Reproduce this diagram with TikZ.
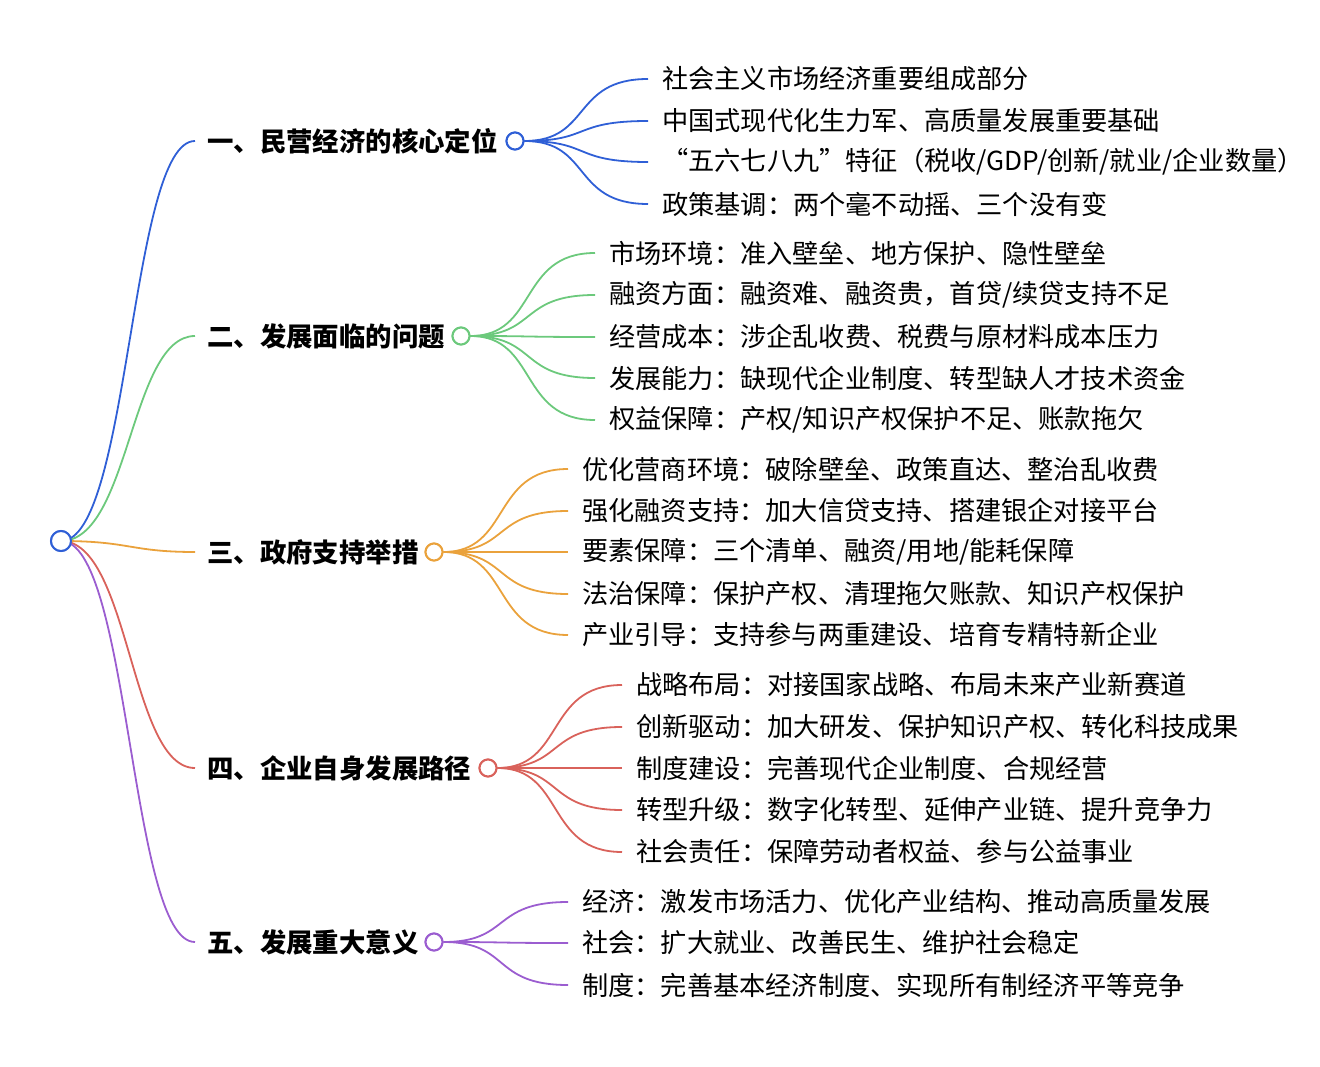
\documentclass[tikz,border=0pt]{standalone}
\usepackage{fontspec}
\setmainfont{Noto Sans CJK SC}
\begin{document}
\begin{tikzpicture}[x=1pt,y=-1pt,
  dot/.style={circle,draw=#1,fill=white,line width=2pt,inner sep=0pt,minimum size=17pt},
  ttl/.style={anchor=west,inner sep=0pt,font=\fontsize{26.4}{30}\selectfont\bfseries},
  leaf/.style={anchor=west,inner sep=0pt,font=\fontsize{26.2}{30}\selectfont},
  br/.style={draw=#1,line width=1.8pt}]
\definecolor{cb}{HTML}{2F5FD6}
\definecolor{cg}{HTML}{6CC97C}
\definecolor{co}{HTML}{EAA23C}
\definecolor{cr}{HTML}{D9625B}
\definecolor{cp}{HTML}{9B5DD0}
\useasboundingbox (0,0) rectangle (1320,1067);
\node[dot=cb,minimum size=20pt] (root) at (61,541) {};
\def\branch#1#2#3#4#5{%
  \coordinate (#1e) at (195,#3);
  \draw[br=#2] (root.center) .. controls (130,541) and (130,#3) .. (#1e);
  \node[ttl] (#1t) at (207,#3) {#4};
  \node[dot=#2] (#1d) at (#5,#3) {};
}
\branch{a}{cb}{141}{一、民营经济的核心定位}{515}
\branch{b}{cg}{336}{二、发展面临的问题}{461}
\branch{c}{co}{552}{三、政府支持举措}{434}
\branch{d}{cr}{768}{四、企业自身发展路径}{488}
\branch{e}{cp}{942}{五、发展重大意义}{434}
\node[dot=cb,minimum size=20pt] at (root) {};
\def\leaf#1#2#3#4#5#6{%
  \coordinate (#1x) at (#4,#5);
  \draw[br=#2] (#1d.east) .. controls ({(#3+#4)/2+10},{\csname y#1\endcsname}) and ({(#3+#4)/2-10},#5) .. (#1x);
  \node[leaf] (#1l#5) at (#4+14,#5) {#6};
}
\def\ya{141}\def\yb{336}\def\yc{552}\def\yd{768}\def\ye{942}
\leaf{a}{cb}{515}{648}{79}{社会主义市场经济重要组成部分}
\leaf{a}{cb}{515}{648}{121}{中国式现代化生力军、高质量发展重要基础}
\leaf{a}{cb}{515}{648}{162}{“五六七八九”特征（税收/GDP/创新/就业/企业数量）}
\leaf{a}{cb}{515}{648}{204}{政策基调：两个毫不动摇、三个没有变}
\leaf{b}{cg}{461}{595}{253}{市场环境：准入壁垒、地方保护、隐性壁垒}
\leaf{b}{cg}{461}{595}{295}{融资方面：融资难、融资贵，首贷/续贷支持不足}
\leaf{b}{cg}{461}{595}{337}{经营成本：涉企乱收费、税费与原材料成本压力}
\leaf{b}{cg}{461}{595}{378}{发展能力：缺现代企业制度、转型缺人才技术资金}
\leaf{b}{cg}{461}{595}{420}{权益保障：产权/知识产权保护不足、账款拖欠}
\leaf{c}{co}{434}{568}{469}{优化营商环境：破除壁垒、政策直达、整治乱收费}
\leaf{c}{co}{434}{568}{511}{强化融资支持：加大信贷支持、搭建银企对接平台}
\leaf{c}{co}{434}{568}{552}{要素保障：三个清单、融资/用地/能耗保障}
\leaf{c}{co}{434}{568}{594}{法治保障：保护产权、清理拖欠账款、知识产权保护}
\leaf{c}{co}{434}{568}{635}{产业引导：支持参与两重建设、培育专精特新企业}
\leaf{d}{cr}{488}{622}{685}{战略布局：对接国家战略、布局未来产业新赛道}
\leaf{d}{cr}{488}{622}{727}{创新驱动：加大研发、保护知识产权、转化科技成果}
\leaf{d}{cr}{488}{622}{768}{制度建设：完善现代企业制度、合规经营}
\leaf{d}{cr}{488}{622}{810}{转型升级：数字化转型、延伸产业链、提升竞争力}
\leaf{d}{cr}{488}{622}{852}{社会责任：保障劳动者权益、参与公益事业}
\leaf{e}{cp}{434}{568}{902}{经济：激发市场活力、优化产业结构、推动高质量发展}
\leaf{e}{cp}{434}{568}{943}{社会：扩大就业、改善民生、维护社会稳定}
\leaf{e}{cp}{434}{568}{985}{制度：完善基本经济制度、实现所有制经济平等竞争}
\foreach \n/\c in {a/cb,b/cg,c/co,d/cr,e/cp} {\node[dot=\c] at (\n d) {};}
\end{tikzpicture}
\end{document}
